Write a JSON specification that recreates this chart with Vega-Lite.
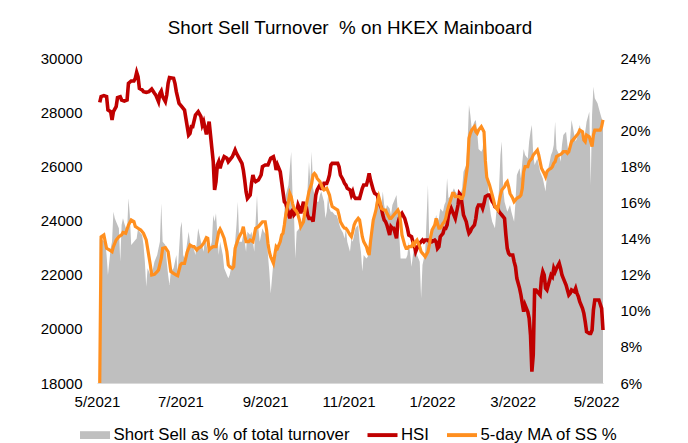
{
"$schema":"https://vega.github.io/schema/vega-lite/v6.json",
"width":506,"height":325,
"autosize":{"type":"none"},
"padding":{"left":97,"top":58,"right":85,"bottom":60},
"background":"white",
"config":{"font":"Liberation Sans","view":{"stroke":null},"axis":{"grid":false,"ticks":false,"domain":false,"labelFont":"Liberation Sans","labelFontSize":15,"labelColor":"#000","title":null}},
"title":{"text":"Short Sell Turnover\u00a0 % on HKEX Mainboard","fontSize":18.8,"fontWeight":"normal","color":"#000","font":"Liberation Sans","offset":13,"anchor":"middle"},
"datasets":{
"hsi":[
{"d":"2021-05-03","v":28363},{"d":"2021-05-04","v":28572},{"d":"2021-05-06","v":28609},{"d":"2021-05-08","v":28572},{"d":"2021-05-09","v":28080},{"d":"2021-05-11","v":28018},{"d":"2021-05-12","v":27711},{"d":"2021-05-13","v":28018},{"d":"2021-05-15","v":28203},{"d":"2021-05-16","v":28535},{"d":"2021-05-18","v":28572},{"d":"2021-05-19","v":28449},{"d":"2021-05-21","v":28412},{"d":"2021-05-23","v":28449},{"d":"2021-05-24","v":29065},{"d":"2021-05-26","v":29151},{"d":"2021-05-28","v":29151},{"d":"2021-05-29","v":29249},{"d":"2021-05-30","v":29471},{"d":"2021-05-31","v":29311},
{"d":"2021-06-01","v":28880},{"d":"2021-06-03","v":28819},{"d":"2021-06-04","v":28757},{"d":"2021-06-06","v":28732},{"d":"2021-06-08","v":28757},{"d":"2021-06-10","v":28855},{"d":"2021-06-12","v":28696},{"d":"2021-06-13","v":28634},{"d":"2021-06-15","v":28388},{"d":"2021-06-16","v":28696},{"d":"2021-06-17","v":28782},{"d":"2021-06-18","v":28572},{"d":"2021-06-20","v":28388},{"d":"2021-06-21","v":28634},{"d":"2021-06-22","v":29065},{"d":"2021-06-23","v":29274},{"d":"2021-06-26","v":29249},{"d":"2021-06-27","v":29065},{"d":"2021-06-28","v":28757},{"d":"2021-06-30","v":28326},
{"d":"2021-07-02","v":28203},{"d":"2021-07-04","v":28080},{"d":"2021-07-05","v":27772},{"d":"2021-07-07","v":27157},{"d":"2021-07-08","v":27218},{"d":"2021-07-09","v":27465},{"d":"2021-07-10","v":27465},{"d":"2021-07-12","v":27895},{"d":"2021-07-13","v":27957},{"d":"2021-07-14","v":28018},{"d":"2021-07-16","v":27834},{"d":"2021-07-17","v":27526},{"d":"2021-07-18","v":27649},{"d":"2021-07-20","v":27181},{"d":"2021-07-21","v":27403},{"d":"2021-07-22","v":27649},{"d":"2021-07-23","v":27157},{"d":"2021-07-24","v":26665},{"d":"2021-07-25","v":26172},{"d":"2021-07-26","v":25126},{"d":"2021-07-27","v":25434},{"d":"2021-07-28","v":26049},{"d":"2021-07-29","v":26172},{"d":"2021-07-30","v":25926},{"d":"2021-07-31","v":26111},
{"d":"2021-08-02","v":26357},{"d":"2021-08-04","v":26295},{"d":"2021-08-05","v":26172},{"d":"2021-08-06","v":26234},{"d":"2021-08-08","v":26357},{"d":"2021-08-10","v":26603},{"d":"2021-08-11","v":26480},{"d":"2021-08-13","v":26295},{"d":"2021-08-15","v":26111},{"d":"2021-08-16","v":25864},{"d":"2021-08-17","v":25495},{"d":"2021-08-18","v":25064},{"d":"2021-08-19","v":24818},{"d":"2021-08-21","v":24941},{"d":"2021-08-22","v":25372},{"d":"2021-08-23","v":25680},{"d":"2021-08-24","v":25495},{"d":"2021-08-25","v":25434},{"d":"2021-08-27","v":25495},{"d":"2021-08-29","v":25680},{"d":"2021-08-30","v":25988},
{"d":"2021-09-01","v":26049},{"d":"2021-09-03","v":26049},{"d":"2021-09-04","v":26172},{"d":"2021-09-05","v":26295},{"d":"2021-09-07","v":26357},{"d":"2021-09-08","v":26172},{"d":"2021-09-09","v":25864},{"d":"2021-09-10","v":26049},{"d":"2021-09-12","v":25803},{"d":"2021-09-13","v":25434},{"d":"2021-09-14","v":25064},{"d":"2021-09-15","v":24695},{"d":"2021-09-16","v":24634},{"d":"2021-09-18","v":24265},{"d":"2021-09-19","v":24080},{"d":"2021-09-20","v":24326},{"d":"2021-09-21","v":24388},{"d":"2021-09-22","v":24203},{"d":"2021-09-24","v":24326},{"d":"2021-09-25","v":24572},{"d":"2021-09-26","v":24449},{"d":"2021-09-27","v":24265},{"d":"2021-09-29","v":24695},{"d":"2021-09-30","v":24326},
{"d":"2021-10-01","v":24511},{"d":"2021-10-02","v":24203},{"d":"2021-10-03","v":24080},{"d":"2021-10-05","v":24080},{"d":"2021-10-06","v":23957},{"d":"2021-10-07","v":24449},{"d":"2021-10-08","v":24941},{"d":"2021-10-09","v":25126},{"d":"2021-10-11","v":25311},{"d":"2021-10-12","v":25188},{"d":"2021-10-13","v":25188},{"d":"2021-10-14","v":25372},{"d":"2021-10-16","v":25372},{"d":"2021-10-17","v":25495},{"d":"2021-10-18","v":25680},{"d":"2021-10-19","v":26049},{"d":"2021-10-20","v":26111},{"d":"2021-10-22","v":26111},{"d":"2021-10-24","v":26111},{"d":"2021-10-25","v":25988},{"d":"2021-10-26","v":25680},{"d":"2021-10-28","v":25495},{"d":"2021-10-29","v":25372},{"d":"2021-10-30","v":25311},{"d":"2021-10-31","v":25188},
{"d":"2021-11-02","v":25126},{"d":"2021-11-03","v":24941},{"d":"2021-11-04","v":25064},{"d":"2021-11-05","v":24880},{"d":"2021-11-06","v":24818},{"d":"2021-11-08","v":24818},{"d":"2021-11-09","v":24818},{"d":"2021-11-11","v":25188},{"d":"2021-11-12","v":25311},{"d":"2021-11-14","v":25311},{"d":"2021-11-15","v":25495},{"d":"2021-11-16","v":25741},{"d":"2021-11-17","v":25495},{"d":"2021-11-19","v":25126},{"d":"2021-11-20","v":25003},{"d":"2021-11-22","v":24941},{"d":"2021-11-23","v":24695},{"d":"2021-11-25","v":24449},{"d":"2021-11-26","v":24203},{"d":"2021-11-27","v":24018},{"d":"2021-11-28","v":23957},{"d":"2021-11-29","v":23834},
{"d":"2021-12-01","v":23464},{"d":"2021-12-02","v":23772},{"d":"2021-12-03","v":23711},{"d":"2021-12-04","v":23711},{"d":"2021-12-06","v":23341},{"d":"2021-12-07","v":23895},{"d":"2021-12-08","v":24080},{"d":"2021-12-09","v":24203},{"d":"2021-12-10","v":24265},{"d":"2021-12-12","v":24080},{"d":"2021-12-13","v":23895},{"d":"2021-12-14","v":23711},{"d":"2021-12-15","v":23464},{"d":"2021-12-17","v":23403},{"d":"2021-12-18","v":23218},{"d":"2021-12-19","v":23095},{"d":"2021-12-20","v":22849},{"d":"2021-12-21","v":22972},{"d":"2021-12-23","v":23157},{"d":"2021-12-24","v":23218},{"d":"2021-12-25","v":23280},{"d":"2021-12-26","v":23218},{"d":"2021-12-27","v":23280},{"d":"2021-12-29","v":23280},{"d":"2021-12-30","v":23218},{"d":"2021-12-31","v":23280},
{"d":"2022-01-01","v":23218},{"d":"2022-01-03","v":23280},{"d":"2022-01-04","v":23218},{"d":"2022-01-05","v":22972},{"d":"2022-01-06","v":23034},{"d":"2022-01-07","v":23403},{"d":"2022-01-09","v":23526},{"d":"2022-01-10","v":23711},{"d":"2022-01-11","v":23711},{"d":"2022-01-12","v":23834},{"d":"2022-01-13","v":24203},{"d":"2022-01-15","v":24449},{"d":"2022-01-16","v":24326},{"d":"2022-01-17","v":24203},{"d":"2022-01-18","v":24080},{"d":"2022-01-20","v":24572},{"d":"2022-01-21","v":25003},{"d":"2022-01-22","v":24941},{"d":"2022-01-23","v":24572},{"d":"2022-01-24","v":24203},{"d":"2022-01-26","v":23957},{"d":"2022-01-27","v":23711},{"d":"2022-01-28","v":23526},{"d":"2022-01-29","v":23588},{"d":"2022-01-30","v":23711},
{"d":"2022-02-01","v":23834},{"d":"2022-02-02","v":24080},{"d":"2022-02-03","v":24449},{"d":"2022-02-04","v":24572},{"d":"2022-02-06","v":24572},{"d":"2022-02-07","v":24449},{"d":"2022-02-08","v":24634},{"d":"2022-02-09","v":24880},{"d":"2022-02-11","v":24941},{"d":"2022-02-12","v":24941},{"d":"2022-02-13","v":24818},{"d":"2022-02-14","v":24695},{"d":"2022-02-15","v":24634},{"d":"2022-02-16","v":24511},{"d":"2022-02-18","v":24449},{"d":"2022-02-19","v":24326},{"d":"2022-02-20","v":24265},{"d":"2022-02-21","v":24203},{"d":"2022-02-23","v":24080},{"d":"2022-02-24","v":23464},{"d":"2022-02-25","v":22972},{"d":"2022-02-26","v":22788},{"d":"2022-02-27","v":22726},
{"d":"2022-03-01","v":22726},{"d":"2022-03-02","v":22480},{"d":"2022-03-03","v":22295},{"d":"2022-03-04","v":21864},{"d":"2022-03-06","v":21495},{"d":"2022-03-07","v":21249},{"d":"2022-03-08","v":20941},{"d":"2022-03-09","v":20634},{"d":"2022-03-10","v":20880},{"d":"2022-03-12","v":20634},{"d":"2022-03-13","v":20388},{"d":"2022-03-14","v":19772},{"d":"2022-03-15","v":18418},{"d":"2022-03-16","v":19034},{"d":"2022-03-17","v":21434},{"d":"2022-03-18","v":21434},{"d":"2022-03-20","v":21311},{"d":"2022-03-21","v":21249},{"d":"2022-03-22","v":21864},{"d":"2022-03-23","v":22111},{"d":"2022-03-24","v":21988},{"d":"2022-03-25","v":21495},{"d":"2022-03-26","v":21434},{"d":"2022-03-27","v":21618},{"d":"2022-03-29","v":21988},{"d":"2022-03-30","v":21926},{"d":"2022-03-31","v":22234},
{"d":"2022-04-01","v":22111},{"d":"2022-04-02","v":22234},{"d":"2022-04-04","v":22418},{"d":"2022-04-05","v":22234},{"d":"2022-04-06","v":21988},{"d":"2022-04-07","v":21864},{"d":"2022-04-09","v":21618},{"d":"2022-04-10","v":21434},{"d":"2022-04-11","v":21249},{"d":"2022-04-12","v":21311},{"d":"2022-04-13","v":21434},{"d":"2022-04-15","v":21372},{"d":"2022-04-16","v":21495},{"d":"2022-04-17","v":21311},{"d":"2022-04-18","v":21188},{"d":"2022-04-19","v":21003},{"d":"2022-04-21","v":20757},{"d":"2022-04-22","v":20572},{"d":"2022-04-23","v":20265},{"d":"2022-04-24","v":19895},{"d":"2022-04-26","v":19834},{"d":"2022-04-27","v":19834},{"d":"2022-04-28","v":19957},{"d":"2022-04-29","v":20695},{"d":"2022-04-30","v":21065},
{"d":"2022-05-02","v":21065},{"d":"2022-05-03","v":21065},{"d":"2022-05-05","v":20757},{"d":"2022-05-06","v":19957}
],
"ma":[
{"d":"2021-05-03","v":6.0},{"d":"2021-05-04","v":14.10},{"d":"2021-05-06","v":14.20},{"d":"2021-05-08","v":13.46},{"d":"2021-05-10","v":13.37},{"d":"2021-05-12","v":13.27},{"d":"2021-05-13","v":13.55},{"d":"2021-05-15","v":13.92},{"d":"2021-05-17","v":14.10},{"d":"2021-05-19","v":14.20},{"d":"2021-05-20","v":14.34},{"d":"2021-05-22","v":14.29},{"d":"2021-05-24","v":14.75},{"d":"2021-05-26","v":15.03},{"d":"2021-05-28","v":14.94},{"d":"2021-05-29","v":14.67},{"d":"2021-05-31","v":14.57},
{"d":"2021-06-02","v":14.47},{"d":"2021-06-04","v":14.29},{"d":"2021-06-06","v":13.92},{"d":"2021-06-07","v":13.46},{"d":"2021-06-09","v":12.54},{"d":"2021-06-10","v":11.98},{"d":"2021-06-12","v":12.02},{"d":"2021-06-14","v":12.17},{"d":"2021-06-15","v":12.26},{"d":"2021-06-17","v":12.90},{"d":"2021-06-18","v":13.46},{"d":"2021-06-20","v":13.50},{"d":"2021-06-22","v":13.27},{"d":"2021-06-23","v":12.72},{"d":"2021-06-24","v":12.17},{"d":"2021-06-26","v":12.07},{"d":"2021-06-28","v":11.98},{"d":"2021-06-29","v":11.94},
{"d":"2021-07-01","v":12.54},{"d":"2021-07-02","v":12.63},{"d":"2021-07-04","v":12.63},{"d":"2021-07-06","v":13.27},{"d":"2021-07-08","v":13.64},{"d":"2021-07-10","v":13.55},{"d":"2021-07-11","v":13.55},{"d":"2021-07-13","v":13.37},{"d":"2021-07-14","v":13.46},{"d":"2021-07-16","v":13.55},{"d":"2021-07-18","v":13.74},{"d":"2021-07-20","v":14.05},{"d":"2021-07-21","v":14.01},{"d":"2021-07-22","v":13.37},{"d":"2021-07-23","v":13.46},{"d":"2021-07-25","v":13.55},{"d":"2021-07-27","v":13.55},{"d":"2021-07-29","v":14.38},{"d":"2021-07-30","v":14.53},{"d":"2021-07-31","v":14.38},
{"d":"2021-08-02","v":14.01},{"d":"2021-08-04","v":13.27},{"d":"2021-08-05","v":12.54},{"d":"2021-08-06","v":12.44},{"d":"2021-08-08","v":12.35},{"d":"2021-08-09","v":12.44},{"d":"2021-08-10","v":13.46},{"d":"2021-08-12","v":13.92},{"d":"2021-08-13","v":14.10},{"d":"2021-08-15","v":14.38},{"d":"2021-08-16","v":14.66},{"d":"2021-08-17","v":14.20},{"d":"2021-08-18","v":13.83},{"d":"2021-08-20","v":13.83},{"d":"2021-08-21","v":13.92},{"d":"2021-08-23","v":13.83},{"d":"2021-08-24","v":14.20},{"d":"2021-08-25","v":14.57},{"d":"2021-08-27","v":14.66},{"d":"2021-08-29","v":14.84},{"d":"2021-08-30","v":14.93},
{"d":"2021-09-01","v":14.93},{"d":"2021-09-02","v":14.47},{"d":"2021-09-03","v":13.74},{"d":"2021-09-04","v":13.27},{"d":"2021-09-05","v":12.99},{"d":"2021-09-07","v":12.63},{"d":"2021-09-08","v":13.09},{"d":"2021-09-09","v":13.55},{"d":"2021-09-10","v":13.46},{"d":"2021-09-12","v":13.83},{"d":"2021-09-13","v":14.20},{"d":"2021-09-14","v":14.29},{"d":"2021-09-15","v":14.75},{"d":"2021-09-16","v":15.30},{"d":"2021-09-18","v":16.04},{"d":"2021-09-19","v":16.50},{"d":"2021-09-20","v":16.32},{"d":"2021-09-21","v":15.95},{"d":"2021-09-22","v":15.67},{"d":"2021-09-24","v":15.49},{"d":"2021-09-25","v":15.30},{"d":"2021-09-26","v":15.03},{"d":"2021-09-27","v":14.66},{"d":"2021-09-29","v":14.93},{"d":"2021-09-30","v":15.49},
{"d":"2021-10-01","v":15.86},{"d":"2021-10-02","v":16.23},{"d":"2021-10-03","v":16.60},{"d":"2021-10-05","v":17.06},{"d":"2021-10-06","v":17.52},{"d":"2021-10-07","v":17.61},{"d":"2021-10-08","v":17.52},{"d":"2021-10-09","v":17.33},{"d":"2021-10-11","v":17.15},{"d":"2021-10-12","v":16.97},{"d":"2021-10-13","v":16.78},{"d":"2021-10-14","v":16.69},{"d":"2021-10-16","v":16.78},{"d":"2021-10-17","v":16.60},{"d":"2021-10-18","v":16.41},{"d":"2021-10-19","v":16.04},{"d":"2021-10-20","v":15.77},{"d":"2021-10-22","v":15.67},{"d":"2021-10-24","v":15.58},{"d":"2021-10-25","v":15.30},{"d":"2021-10-26","v":14.93},{"d":"2021-10-28","v":14.66},{"d":"2021-10-29","v":14.57},{"d":"2021-10-30","v":14.57},{"d":"2021-10-31","v":14.47},
{"d":"2021-11-02","v":14.20},{"d":"2021-11-03","v":14.10},{"d":"2021-11-04","v":14.38},{"d":"2021-11-05","v":14.75},{"d":"2021-11-06","v":14.93},{"d":"2021-11-08","v":15.12},{"d":"2021-11-09","v":15.03},{"d":"2021-11-10","v":14.57},{"d":"2021-11-11","v":14.10},{"d":"2021-11-12","v":13.83},{"d":"2021-11-14","v":13.55},{"d":"2021-11-15","v":13.27},{"d":"2021-11-16","v":13.09},{"d":"2021-11-17","v":13.83},{"d":"2021-11-19","v":15.03},{"d":"2021-11-20","v":15.30},{"d":"2021-11-21","v":15.58},{"d":"2021-11-22","v":16.04},{"d":"2021-11-23","v":16.32},{"d":"2021-11-24","v":16.04},{"d":"2021-11-25","v":15.67},{"d":"2021-11-27","v":15.58},{"d":"2021-11-28","v":15.58},{"d":"2021-11-29","v":15.40},
{"d":"2021-12-01","v":15.12},{"d":"2021-12-02","v":15.12},{"d":"2021-12-03","v":15.21},{"d":"2021-12-04","v":15.30},{"d":"2021-12-06","v":15.49},{"d":"2021-12-07","v":15.58},{"d":"2021-12-08","v":15.40},{"d":"2021-12-09","v":14.93},{"d":"2021-12-10","v":14.20},{"d":"2021-12-12","v":13.64},{"d":"2021-12-13","v":13.46},{"d":"2021-12-14","v":13.46},{"d":"2021-12-15","v":13.55},{"d":"2021-12-17","v":13.55},{"d":"2021-12-18","v":13.74},{"d":"2021-12-19","v":13.64},{"d":"2021-12-20","v":13.83},{"d":"2021-12-21","v":13.92},{"d":"2021-12-23","v":13.55},{"d":"2021-12-24","v":13.27},{"d":"2021-12-25","v":13.18},{"d":"2021-12-26","v":13.09},{"d":"2021-12-27","v":12.99},{"d":"2021-12-29","v":13.27},{"d":"2021-12-30","v":13.64},{"d":"2021-12-31","v":14.10},
{"d":"2022-01-01","v":14.47},{"d":"2022-01-03","v":14.75},{"d":"2022-01-04","v":15.12},{"d":"2022-01-05","v":14.84},{"d":"2022-01-06","v":14.57},{"d":"2022-01-07","v":14.57},{"d":"2022-01-09","v":14.84},{"d":"2022-01-10","v":14.93},{"d":"2022-01-11","v":15.12},{"d":"2022-01-12","v":15.49},{"d":"2022-01-13","v":15.77},{"d":"2022-01-15","v":16.23},{"d":"2022-01-16","v":16.50},{"d":"2022-01-17","v":16.50},{"d":"2022-01-18","v":16.32},{"d":"2022-01-20","v":16.32},{"d":"2022-01-21","v":16.32},{"d":"2022-01-22","v":16.23},{"d":"2022-01-23","v":16.23},{"d":"2022-01-24","v":16.41},{"d":"2022-01-26","v":17.52},{"d":"2022-01-27","v":18.07},{"d":"2022-01-28","v":19.55},{"d":"2022-01-29","v":19.83},{"d":"2022-01-30","v":20.01},
{"d":"2022-02-01","v":20.20},{"d":"2022-02-02","v":19.92},{"d":"2022-02-03","v":19.83},{"d":"2022-02-04","v":20.01},{"d":"2022-02-06","v":20.20},{"d":"2022-02-07","v":20.05},{"d":"2022-02-08","v":19.90},{"d":"2022-02-09","v":18.30},{"d":"2022-02-10","v":17.40},{"d":"2022-02-12","v":16.97},{"d":"2022-02-13","v":16.69},{"d":"2022-02-14","v":16.41},{"d":"2022-02-15","v":16.13},{"d":"2022-02-16","v":15.77},{"d":"2022-02-18","v":15.58},{"d":"2022-02-19","v":16.04},{"d":"2022-02-20","v":16.41},{"d":"2022-02-21","v":16.69},{"d":"2022-02-23","v":16.87},{"d":"2022-02-24","v":17.06},{"d":"2022-02-25","v":17.15},{"d":"2022-02-26","v":16.87},{"d":"2022-02-27","v":16.50},
{"d":"2022-03-01","v":16.23},{"d":"2022-03-02","v":16.04},{"d":"2022-03-03","v":16.13},{"d":"2022-03-04","v":16.23},{"d":"2022-03-06","v":16.32},{"d":"2022-03-07","v":16.41},{"d":"2022-03-08","v":16.78},{"d":"2022-03-09","v":17.70},{"d":"2022-03-10","v":17.98},{"d":"2022-03-12","v":17.98},{"d":"2022-03-13","v":18.26},{"d":"2022-03-14","v":18.35},{"d":"2022-03-15","v":18.44},{"d":"2022-03-16","v":18.63},{"d":"2022-03-18","v":18.81},{"d":"2022-03-19","v":18.90},{"d":"2022-03-20","v":18.63},{"d":"2022-03-21","v":18.26},{"d":"2022-03-22","v":17.89},{"d":"2022-03-24","v":17.61},{"d":"2022-03-25","v":17.43},{"d":"2022-03-26","v":17.70},{"d":"2022-03-27","v":17.80},{"d":"2022-03-29","v":17.89},{"d":"2022-03-30","v":17.98},{"d":"2022-03-31","v":18.17},
{"d":"2022-04-01","v":18.26},{"d":"2022-04-02","v":18.54},{"d":"2022-04-04","v":18.63},{"d":"2022-04-05","v":18.66},{"d":"2022-04-06","v":18.72},{"d":"2022-04-07","v":18.81},{"d":"2022-04-09","v":18.81},{"d":"2022-04-10","v":18.72},{"d":"2022-04-11","v":18.81},{"d":"2022-04-12","v":19.09},{"d":"2022-04-13","v":19.37},{"d":"2022-04-15","v":19.55},{"d":"2022-04-16","v":19.64},{"d":"2022-04-17","v":19.73},{"d":"2022-04-18","v":19.83},{"d":"2022-04-19","v":20.01},{"d":"2022-04-21","v":19.92},{"d":"2022-04-22","v":19.46},{"d":"2022-04-23","v":19.37},{"d":"2022-04-24","v":19.73},{"d":"2022-04-26","v":19.64},{"d":"2022-04-27","v":19.37},{"d":"2022-04-28","v":19.09},{"d":"2022-04-29","v":19.73},{"d":"2022-04-30","v":20.01},
{"d":"2022-05-02","v":20.01},{"d":"2022-05-04","v":20.01},{"d":"2022-05-05","v":20.20},{"d":"2022-05-06","v":20.57}
],
"ss":[
{"d":"2021-05-03","v":14.0},{"d":"2021-05-07","v":13.83},{"d":"2021-05-08","v":13.09},{"d":"2021-05-09","v":11.98},{"d":"2021-05-11","v":13.46},{"d":"2021-05-12","v":13.83},{"d":"2021-05-13","v":15.49},{"d":"2021-05-14","v":15.12},{"d":"2021-05-15","v":14.93},{"d":"2021-05-17","v":14.57},{"d":"2021-05-18","v":12.72},{"d":"2021-05-19","v":14.75},{"d":"2021-05-20","v":15.12},{"d":"2021-05-21","v":14.84},{"d":"2021-05-23","v":14.38},{"d":"2021-05-24","v":16.23},{"d":"2021-05-25","v":15.30},{"d":"2021-05-26","v":13.64},{"d":"2021-05-28","v":13.83},{"d":"2021-05-29","v":13.92},{"d":"2021-05-30","v":14.01},{"d":"2021-05-31","v":14.57},
{"d":"2021-06-01","v":14.38},{"d":"2021-06-03","v":14.20},{"d":"2021-06-04","v":13.64},{"d":"2021-06-05","v":12.72},{"d":"2021-06-06","v":11.33},{"d":"2021-06-07","v":12.35},{"d":"2021-06-09","v":11.98},{"d":"2021-06-10","v":12.17},{"d":"2021-06-11","v":12.35},{"d":"2021-06-12","v":12.72},{"d":"2021-06-14","v":13.09},{"d":"2021-06-15","v":13.46},{"d":"2021-06-16","v":13.83},{"d":"2021-06-17","v":15.95},{"d":"2021-06-18","v":13.83},{"d":"2021-06-20","v":13.64},{"d":"2021-06-21","v":12.72},{"d":"2021-06-22","v":11.98},{"d":"2021-06-23","v":11.43},{"d":"2021-06-24","v":12.17},{"d":"2021-06-26","v":12.35},{"d":"2021-06-27","v":12.72},{"d":"2021-06-28","v":13.09},{"d":"2021-06-29","v":12.17},
{"d":"2021-07-01","v":14.57},{"d":"2021-07-02","v":14.93},{"d":"2021-07-03","v":13.09},{"d":"2021-07-04","v":12.90},{"d":"2021-07-05","v":13.27},{"d":"2021-07-07","v":14.38},{"d":"2021-07-08","v":13.83},{"d":"2021-07-09","v":13.46},{"d":"2021-07-10","v":13.64},{"d":"2021-07-12","v":13.09},{"d":"2021-07-13","v":13.83},{"d":"2021-07-14","v":14.57},{"d":"2021-07-15","v":14.20},{"d":"2021-07-16","v":13.83},{"d":"2021-07-18","v":13.27},{"d":"2021-07-19","v":14.20},{"d":"2021-07-20","v":13.64},{"d":"2021-07-21","v":13.27},{"d":"2021-07-22","v":13.27},{"d":"2021-07-24","v":13.83},{"d":"2021-07-25","v":15.30},{"d":"2021-07-26","v":14.93},{"d":"2021-07-27","v":15.40},{"d":"2021-07-29","v":13.09},{"d":"2021-07-30","v":13.83},{"d":"2021-07-31","v":13.46},
{"d":"2021-08-01","v":13.09},{"d":"2021-08-02","v":12.35},{"d":"2021-08-04","v":11.98},{"d":"2021-08-05","v":11.80},{"d":"2021-08-06","v":11.98},{"d":"2021-08-07","v":12.35},{"d":"2021-08-08","v":12.90},{"d":"2021-08-10","v":13.83},{"d":"2021-08-11","v":14.75},{"d":"2021-08-12","v":16.04},{"d":"2021-08-13","v":13.83},{"d":"2021-08-15","v":13.83},{"d":"2021-08-16","v":14.29},{"d":"2021-08-17","v":13.83},{"d":"2021-08-18","v":13.27},{"d":"2021-08-19","v":14.38},{"d":"2021-08-21","v":14.20},{"d":"2021-08-22","v":14.38},{"d":"2021-08-23","v":13.83},{"d":"2021-08-24","v":13.27},{"d":"2021-08-25","v":14.93},{"d":"2021-08-26","v":16.41},{"d":"2021-08-27","v":14.57},{"d":"2021-08-28","v":13.83},{"d":"2021-08-29","v":14.20},{"d":"2021-08-30","v":14.57},{"d":"2021-08-31","v":14.38},
{"d":"2021-09-02","v":14.20},{"d":"2021-09-03","v":13.09},{"d":"2021-09-04","v":12.17},{"d":"2021-09-05","v":10.96},{"d":"2021-09-07","v":12.72},{"d":"2021-09-08","v":13.27},{"d":"2021-09-09","v":13.09},{"d":"2021-09-10","v":13.64},{"d":"2021-09-12","v":13.83},{"d":"2021-09-13","v":14.20},{"d":"2021-09-14","v":14.57},{"d":"2021-09-15","v":15.49},{"d":"2021-09-16","v":16.41},{"d":"2021-09-18","v":16.97},{"d":"2021-09-19","v":17.89},{"d":"2021-09-20","v":18.81},{"d":"2021-09-21","v":16.41},{"d":"2021-09-22","v":15.49},{"d":"2021-09-23","v":12.90},{"d":"2021-09-24","v":14.38},{"d":"2021-09-25","v":14.47},{"d":"2021-09-26","v":14.57},{"d":"2021-09-27","v":14.75},{"d":"2021-09-28","v":15.12},{"d":"2021-09-30","v":15.12},
{"d":"2021-10-01","v":15.67},{"d":"2021-10-02","v":16.78},{"d":"2021-10-03","v":18.26},{"d":"2021-10-04","v":17.15},{"d":"2021-10-05","v":18.81},{"d":"2021-10-06","v":16.78},{"d":"2021-10-07","v":16.41},{"d":"2021-10-09","v":16.04},{"d":"2021-10-10","v":16.04},{"d":"2021-10-11","v":16.41},{"d":"2021-10-12","v":16.60},{"d":"2021-10-14","v":16.04},{"d":"2021-10-15","v":15.12},{"d":"2021-10-16","v":15.49},{"d":"2021-10-17","v":16.41},{"d":"2021-10-18","v":15.67},{"d":"2021-10-19","v":15.49},{"d":"2021-10-20","v":15.49},{"d":"2021-10-22","v":15.30},{"d":"2021-10-23","v":15.30},{"d":"2021-10-24","v":15.12},{"d":"2021-10-25","v":14.84},{"d":"2021-10-26","v":14.57},{"d":"2021-10-28","v":14.29},{"d":"2021-10-29","v":14.01},{"d":"2021-10-30","v":14.57},{"d":"2021-10-31","v":13.83},
{"d":"2021-11-02","v":13.27},{"d":"2021-11-03","v":14.01},{"d":"2021-11-04","v":13.83},{"d":"2021-11-05","v":14.20},{"d":"2021-11-06","v":14.57},{"d":"2021-11-08","v":14.75},{"d":"2021-11-09","v":13.83},{"d":"2021-11-10","v":13.27},{"d":"2021-11-11","v":12.17},{"d":"2021-11-12","v":13.09},{"d":"2021-11-14","v":12.90},{"d":"2021-11-15","v":12.99},{"d":"2021-11-16","v":13.27},{"d":"2021-11-17","v":14.01},{"d":"2021-11-19","v":14.93},{"d":"2021-11-20","v":15.49},{"d":"2021-11-21","v":16.04},{"d":"2021-11-22","v":16.41},{"d":"2021-11-23","v":16.23},{"d":"2021-11-25","v":15.86},{"d":"2021-11-26","v":16.60},{"d":"2021-11-27","v":15.86},{"d":"2021-11-28","v":15.49},{"d":"2021-11-29","v":15.86},
{"d":"2021-12-01","v":15.67},{"d":"2021-12-02","v":15.30},{"d":"2021-12-03","v":15.86},{"d":"2021-12-04","v":16.04},{"d":"2021-12-06","v":16.41},{"d":"2021-12-07","v":15.49},{"d":"2021-12-08","v":14.20},{"d":"2021-12-09","v":12.90},{"d":"2021-12-10","v":12.90},{"d":"2021-12-12","v":12.90},{"d":"2021-12-13","v":12.90},{"d":"2021-12-14","v":13.09},{"d":"2021-12-15","v":13.83},{"d":"2021-12-17","v":12.44},{"d":"2021-12-18","v":13.09},{"d":"2021-12-19","v":13.46},{"d":"2021-12-20","v":13.83},{"d":"2021-12-21","v":13.09},{"d":"2021-12-23","v":12.72},{"d":"2021-12-24","v":10.69},{"d":"2021-12-25","v":12.54},{"d":"2021-12-26","v":12.90},{"d":"2021-12-27","v":13.27},{"d":"2021-12-29","v":16.97},{"d":"2021-12-30","v":13.83},{"d":"2021-12-31","v":14.20},
{"d":"2022-01-01","v":14.57},{"d":"2022-01-03","v":14.93},{"d":"2022-01-04","v":15.30},{"d":"2022-01-05","v":14.93},{"d":"2022-01-06","v":15.12},{"d":"2022-01-07","v":15.67},{"d":"2022-01-09","v":15.49},{"d":"2022-01-10","v":15.86},{"d":"2022-01-11","v":16.04},{"d":"2022-01-12","v":17.34},{"d":"2022-01-13","v":16.23},{"d":"2022-01-15","v":16.41},{"d":"2022-01-16","v":16.60},{"d":"2022-01-17","v":16.78},{"d":"2022-01-18","v":16.60},{"d":"2022-01-20","v":16.41},{"d":"2022-01-21","v":16.41},{"d":"2022-01-22","v":16.50},{"d":"2022-01-23","v":16.78},{"d":"2022-01-24","v":17.70},{"d":"2022-01-26","v":18.07},{"d":"2022-01-27","v":19.37},{"d":"2022-01-28","v":21.40},{"d":"2022-01-29","v":20.84},{"d":"2022-01-30","v":20.10},
{"d":"2022-02-01","v":20.47},{"d":"2022-02-02","v":20.57},{"d":"2022-02-03","v":19.92},{"d":"2022-02-04","v":18.96},{"d":"2022-02-06","v":18.81},{"d":"2022-02-07","v":18.96},{"d":"2022-02-08","v":19.92},{"d":"2022-02-09","v":19.50},{"d":"2022-02-10","v":18.00},{"d":"2022-02-11","v":16.90},{"d":"2022-02-12","v":15.86},{"d":"2022-02-13","v":15.30},{"d":"2022-02-14","v":14.93},{"d":"2022-02-15","v":14.75},{"d":"2022-02-16","v":14.57},{"d":"2022-02-17","v":15.49},{"d":"2022-02-18","v":15.67},{"d":"2022-02-19","v":16.78},{"d":"2022-02-20","v":18.63},{"d":"2022-02-21","v":19.37},{"d":"2022-02-22","v":16.78},{"d":"2022-02-23","v":16.04},{"d":"2022-02-25","v":15.49},{"d":"2022-02-26","v":15.67},{"d":"2022-02-27","v":15.86},{"d":"2022-02-28","v":15.49},
{"d":"2022-03-02","v":14.93},{"d":"2022-03-03","v":16.04},{"d":"2022-03-04","v":17.52},{"d":"2022-03-06","v":17.89},{"d":"2022-03-07","v":17.33},{"d":"2022-03-08","v":18.26},{"d":"2022-03-09","v":18.96},{"d":"2022-03-10","v":18.63},{"d":"2022-03-12","v":18.44},{"d":"2022-03-13","v":19.37},{"d":"2022-03-14","v":19.92},{"d":"2022-03-15","v":20.29},{"d":"2022-03-16","v":18.63},{"d":"2022-03-17","v":18.07},{"d":"2022-03-18","v":18.26},{"d":"2022-03-19","v":18.44},{"d":"2022-03-20","v":18.07},{"d":"2022-03-21","v":17.70},{"d":"2022-03-23","v":17.33},{"d":"2022-03-24","v":16.97},{"d":"2022-03-25","v":16.60},{"d":"2022-03-26","v":17.52},{"d":"2022-03-27","v":17.89},{"d":"2022-03-28","v":18.26},{"d":"2022-03-29","v":18.63},{"d":"2022-03-30","v":18.81},{"d":"2022-03-31","v":19.18},
{"d":"2022-04-01","v":20.47},{"d":"2022-04-02","v":18.96},{"d":"2022-04-04","v":18.63},{"d":"2022-04-05","v":18.26},{"d":"2022-04-06","v":19.18},{"d":"2022-04-07","v":19.74},{"d":"2022-04-09","v":19.92},{"d":"2022-04-10","v":19.18},{"d":"2022-04-11","v":18.63},{"d":"2022-04-12","v":19.55},{"d":"2022-04-13","v":20.57},{"d":"2022-04-15","v":19.74},{"d":"2022-04-16","v":19.37},{"d":"2022-04-17","v":19.55},{"d":"2022-04-18","v":19.92},{"d":"2022-04-19","v":20.29},{"d":"2022-04-21","v":19.55},{"d":"2022-04-22","v":19.37},{"d":"2022-04-23","v":19.92},{"d":"2022-04-24","v":20.47},{"d":"2022-04-26","v":21.03},{"d":"2022-04-27","v":16.97},{"d":"2022-04-28","v":20.84},{"d":"2022-04-29","v":22.41},{"d":"2022-04-30","v":21.77},
{"d":"2022-05-02","v":21.49},{"d":"2022-05-03","v":21.21},{"d":"2022-05-04","v":20.93},{"d":"2022-05-05","v":20.66},{"d":"2022-05-06","v":20.47}
]
},
"layer":[
{"data":{"name":"ss"},"mark":{"type":"area","color":"#BFBFBF","opacity":1},
 "encoding":{
  "x":{"field":"d","type":"temporal","scale":{"type":"utc","domain":[{"year":2021,"month":5,"date":1,"utc":true},{"year":2022,"month":5,"date":6,"utc":true}]},
   "axis":{"values":[{"year":2021,"month":5,"date":1,"utc":true},{"year":2021,"month":7,"date":1,"utc":true},{"year":2021,"month":9,"date":1,"utc":true},{"year":2021,"month":11,"date":1,"utc":true},{"year":2022,"month":1,"date":1,"utc":true},{"year":2022,"month":3,"date":1,"utc":true},{"year":2022,"month":5,"date":1,"utc":true}],
    "format":"%-m/%Y","labelFlush":false,"domain":true,"domainColor":"#D9D9D9","domainWidth":1,"labelPadding":11,"labelOverlap":false}},
  "y":{"field":"v","type":"quantitative","scale":{"domain":[6,24],"zero":false,"nice":false},
   "axis":{"orient":"right","values":[6,8,10,12,14,16,18,20,22,24],"labelExpr":"datum.value + '%'","labelPadding":17}},
  "y2":{"datum":6},
  "color":{"datum":"Short Sell as % of total turnover","type":"nominal",
   "scale":{"domain":["Short Sell as % of total turnover","HSI","5-day MA of SS %"],"range":["#BFBFBF","#C00000","#FF8F1F"]},
   "legend":{"orient":"none","legendX":-17,"legendY":362,"direction":"horizontal","title":null,"labelFontSize":16.8,"labelFont":"Liberation Sans","labelColor":"#000","labelLimit":400,"symbolSize":900,"labelOffset":3.5,"columnPadding":17.5,"symbolStrokeWidth":0,"symbolOpacity":1,
    "symbolType":{"expr":"datum.value === 'Short Sell as % of total turnover' ? 'M-1,-0.26H1V0.26H-1Z' : 'M-1,-0.13H1V0.13H-1Z'"}}}
 }},
{"data":{"name":"hsi"},"mark":{"type":"line","strokeWidth":3.6,"color":"#C00000"},
 "encoding":{
  "x":{"field":"d","type":"temporal"},
  "y":{"field":"v","type":"quantitative","scale":{"domain":[18000,30000],"zero":false,"nice":false},
   "axis":{"orient":"left","values":[18000,20000,22000,24000,26000,28000,30000],"format":"d","labelPadding":15}},
  "color":{"datum":"HSI","type":"nominal"}
 }},
{"data":{"name":"ma"},"mark":{"type":"line","strokeWidth":3.2,"color":"#FF8F1F"},
 "encoding":{
  "x":{"field":"d","type":"temporal"},
  "y":{"field":"v","type":"quantitative","scale":{"domain":[6,24],"zero":false,"nice":false},"axis":null},
  "color":{"datum":"5-day MA of SS %","type":"nominal"}
 }}
],
"resolve":{"scale":{"y":"independent"}}
}
